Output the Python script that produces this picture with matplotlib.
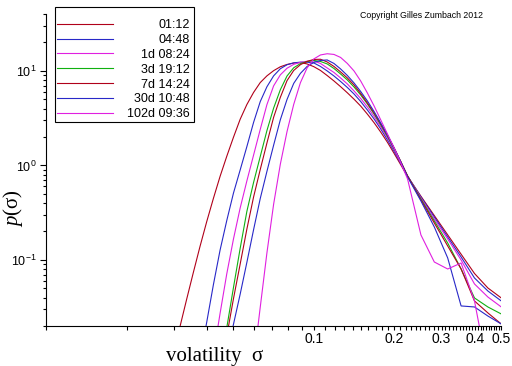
import numpy as np
import matplotlib
matplotlib.use("Agg")
import matplotlib.pyplot as plt
from matplotlib.patches import Rectangle
from matplotlib.ticker import FixedLocator, FixedFormatter, NullFormatter, LogLocator

plt.rcParams['font.family'] = ['Liberation Sans', 'DejaVu Sans']
plt.rcParams['mathtext.fontset'] = 'custom'
plt.rcParams['mathtext.it'] = 'Liberation Serif:italic'
plt.rcParams['mathtext.rm'] = 'Liberation Serif'

nan = np.nan

# volatility grid: 40 per decade up to 0.224, then 20 per decade
sigma = [0.02818, 0.02985, 0.03162, 0.03350, 0.03548, 0.03758, 0.03981, 0.04217,
         0.04467, 0.04732, 0.05012, 0.05309, 0.05623, 0.05957, 0.06310, 0.06683,
         0.07079, 0.07499, 0.07943, 0.08414, 0.08913, 0.09441, 0.1, 0.1059,
         0.1122, 0.1189, 0.1259, 0.1334, 0.1413, 0.1496, 0.1585, 0.1679,
         0.1778, 0.1884, 0.1995, 0.2113, 0.2239,
         0.2512, 0.2818, 0.3162, 0.3548, 0.3981, 0.4467, 0.5012]

p_0112 = [0.00499, 0.00987, 0.01952, 0.0382, 0.0733, 0.1385, 0.2534, 0.447, 0.766,
          1.250, 1.986, 3.078, 4.405, 5.914, 7.529, 8.865, 10.06, 11.06, 11.70,
          12.11, 12.26, 11.85, 11.09, 10.11, 8.93, 7.83, 6.81, 5.87, 5.02, 4.25,
          3.49, 2.83, 2.25, 1.754, 1.338, 1.013, 0.764,
          0.4716, 0.2946, 0.1841, 0.1150, 0.0719, 0.0505, 0.0396]
p_0448 = [nan, nan, nan, nan, nan, 0.00895, 0.02183, 0.0546, 0.1271, 0.2615,
          0.5098, 0.895, 1.579, 2.848, 4.739, 6.80, 8.865, 10.54, 11.62, 12.17,
          12.38, 12.35, 12.14, 11.15, 9.99, 8.84, 7.73, 6.68, 5.70, 4.75, 3.86,
          3.10, 2.43, 1.859, 1.405, 1.048, 0.773,
          0.4636, 0.2848, 0.1749, 0.1075, 0.0644, 0.0469, 0.0368]
p_1d = [nan, nan, nan, nan, nan, nan, 0.0036, 0.00989, 0.0272, 0.0714, 0.1666,
        0.3545, 0.6844, 1.284, 2.407, 4.405, 6.95, 9.08, 10.67, 11.73, 12.32,
        12.65, 12.74, 11.99, 10.74, 9.63, 8.42, 7.28, 6.14, 5.11, 4.155, 3.30,
        2.553, 1.952, 1.457, 1.075, 0.773,
        0.4524, 0.2713, 0.1666, 0.0999, 0.0557, 0.0405, 0.0318]
p_3d = [nan, nan, nan, nan, nan, nan, nan, nan, 0.00722, 0.01924, 0.0511, 0.1325,
        0.3256, 0.660, 1.244, 2.338, 4.045, 6.32, 8.84, 10.80, 11.95, 12.56, 12.90,
        12.59, 11.85, 10.61, 9.28, 8.02, 6.76, 5.57, 4.47, 3.50, 2.68, 2.024,
        1.493, 1.088, 0.773,
        0.4416, 0.2584, 0.1511, 0.0802, 0.0396, 0.0318, 0.0268]
p_7d = [nan, nan, nan, nan, nan, nan, nan, nan, 0.00641, 0.01575, 0.0389, 0.0904,
        0.2115, 0.4625, 0.906, 1.728, 3.232, 5.25, 7.89, 10.11, 11.64, 12.62, 13.22,
        13.28, 12.43, 11.15, 9.75, 8.42, 7.10, 5.77, 4.58, 3.59, 2.745, 2.074,
        1.530, 1.101, 0.773,
        0.4310, 0.2460, 0.1405, 0.0802, 0.0368, 0.0275, 0.0210]
p_30d = [nan, nan, nan, nan, nan, nan, nan, nan, nan, 0.00999, 0.02084, 0.0434,
         0.0940, 0.2084, 0.447, 0.865, 1.638, 3.042, 4.99, 7.38, 9.42, 11.15, 12.29,
         12.90, 13.06, 11.99, 10.49, 8.95, 7.46, 6.06, 4.81, 3.72, 2.81, 2.10,
         1.530, 1.088, 0.755,
         0.4205, 0.2233, 0.1049, 0.0326, 0.0318, 0.0255, 0.0210]
p_102d = [nan, nan, nan, nan, nan, nan, nan, nan, nan, nan, nan, nan, 0.00213,
          0.00818, 0.0317, 0.1190, 0.389, 1.031, 2.281, 4.426, 7.51, 10.77, 13.38,
          14.75, 15.19, 14.94, 13.88, 11.99, 9.99, 7.83, 5.84, 4.26, 3.03, 2.15,
          1.530, 1.061, 0.719,
          0.1837, 0.0951, 0.0802, 0.0928, 0.0368, 0.00668, nan]

labels = ['01:12', '04:48', '1d 08:24', '3d 19:12', '7d 14:24', '30d 10:48', '102d 09:36']
colors = ['#b0001a', '#2828c8', '#e020e0', '#10b010', '#b0001a', '#2828c8', '#e020e0']
series = [p_0112, p_0448, p_1d, p_3d, p_7d, p_30d, p_102d]

W, H = 512, 366
fig = plt.figure(figsize=(W / 100, H / 100), dpi=100)
ax = fig.add_axes([46 / W, 40 / H, 455 / W, 312 / H])

for p, lab, c in zip(series, labels, colors):
    ax.plot(sigma, p, '-', color=c, lw=0.8, label=lab)

ax.set_xscale('log')
ax.set_yscale('log')
ax.set_xlim(0.01, 0.5)
ax.set_ylim(0.02, 40)

for s in ['top', 'right']:
    ax.spines[s].set_visible(False)
for s in ['left', 'bottom']:
    ax.spines[s].set_linewidth(0.8)

ax.xaxis.set_major_locator(FixedLocator([0.1, 0.2, 0.3, 0.4, 0.5]))
ax.xaxis.set_major_formatter(FixedFormatter(['0.1', '0.2', '0.3', '0.4', '0.5']))
minor = [round(v, 2) for v in np.arange(0.01, 0.5, 0.01) if round(v, 2) not in (0.1, 0.2, 0.3, 0.4)]
ax.xaxis.set_minor_locator(FixedLocator(minor))
ax.xaxis.set_minor_formatter(NullFormatter())
ax.yaxis.set_major_locator(LogLocator(base=10))
ax.yaxis.set_minor_locator(LogLocator(base=10, subs=np.arange(2, 10)))
ax.yaxis.set_minor_formatter(NullFormatter())

ax.tick_params(axis='x', which='both', length=3, width=0.8, pad=1, labelsize=10)
ax.tick_params(axis='y', which='major', length=4.5, width=0.8, pad=2, labelsize=9)
ax.tick_params(axis='y', which='minor', length=2.5, width=0.8)

fig.text(166 / W, 5 / H, 'volatility  σ', family='Liberation Serif', fontsize=15,
         ha='left', va='baseline')
fig.text(13 / W, 1 - 208 / H, '$p$(σ)', family='Liberation Serif', fontsize=15,
         rotation=90, ha='center', va='center')
fig.text(360 / W, 1 - 16 / H, 'Copyright Gilles Zumbach 2012', fontsize=6.3,
         ha='left', va='center')

# legend: frame drawn separately, labels right aligned
ax.add_artist(Rectangle((55 / W, 1 - 122 / H), 139 / W, 115 / H, transform=fig.transFigure,
                        fill=True, fc='white', ec='black', lw=0.8, zorder=4, clip_on=False))
leg = ax.legend(loc='upper left', bbox_to_anchor=(57 / W, 1 - 19 / H),
                bbox_transform=fig.transFigure, frameon=False, fontsize=9,
                handlelength=4.48, handletextpad=1.12, labelspacing=0.23,
                borderpad=0, borderaxespad=0)
leg.set_zorder(5)
fig.canvas.draw()
r = fig.canvas.get_renderer()
widths = [t.get_window_extent(r).width for t in leg.get_texts()]
w = max(widths)
for t, wi in zip(leg.get_texts(), widths):
    t.set_position((w - wi, 0))

fig.savefig('out.png', dpi=100)
